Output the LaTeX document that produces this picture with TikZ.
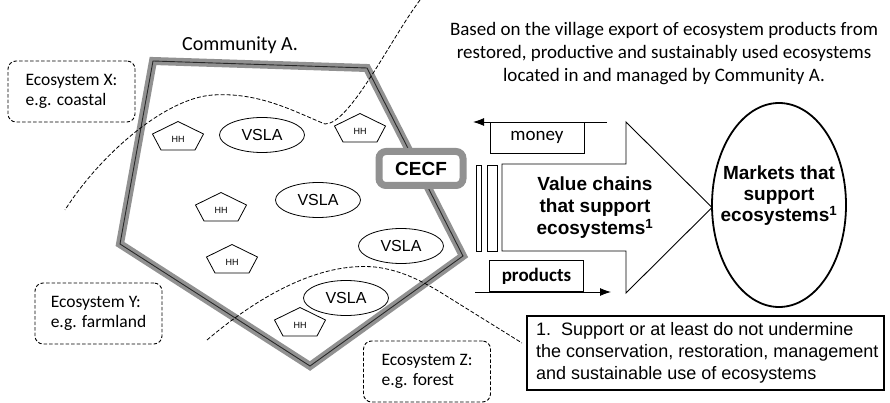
\documentclass[tikz,border=0pt]{standalone}
\usepackage{fontspec}
\setmainfont{Carlito}
\newfontfamily\arialf{Liberation Sans}
\usetikzlibrary{shapes.geometric,arrows.meta}
\definecolor{bandgray}{RGB}{145,145,145}
\definecolor{banddark}{RGB}{40,40,40}
\tikzset{
  eco/.style={draw, dash pattern=on 3.5pt off 2pt, rounded corners=8pt, line width=0.9pt,
    minimum width=127pt, minimum height=61pt, align=left, inner sep=0pt,
    font=\fontsize{17.5}{20.5}\selectfont},
  vsla/.style={draw, ellipse, line width=0.8pt, minimum width=85pt, minimum height=35pt,
    inner sep=0pt, font=\arialf\fontsize{16}{16}\selectfont},
  hhpent/.pic={
    \draw[line width=0.8pt] (0,-15.5) -- (25.5,-3) -- (17,13) -- (-17,13) -- (-25.5,-3) -- cycle;
    \node[font=\arialf\fontsize{9}{9}\selectfont, inner sep=0pt] (-t) at (0,2) {HH};},
  eline/.style={line width=0.8pt, dash pattern=on 4pt off 2pt},
  flowbox/.style={draw, line width=0.9pt, minimum width=94pt, minimum height=31pt, inner sep=0pt},
  cecfbox/.style={draw=bandgray, line width=7pt, rounded corners=7pt, fill=white,
    minimum width=84pt, minimum height=34pt, inner sep=0pt,
    font=\arialf\bfseries\fontsize{19}{19}\selectfont},
  bold19/.style={align=center, font=\arialf\bfseries\fontsize{19}{22}\selectfont, inner sep=0pt},
  flowarrow/.style={line width=0.9pt, -{Latex[length=11pt,width=8pt]}},
}
\begin{document}
\begin{tikzpicture}[x=1pt,y=-1pt]
\useasboundingbox (0,0) rectangle (890,403);

% pentagon community boundary
\coordinate (p1) at (153,61);
\coordinate (p2) at (367,68);
\coordinate (p3) at (463,256);
\coordinate (p4) at (310,366);
\coordinate (p5) at (120,244);
\draw[bandgray, line width=8pt, line join=miter] (p1) -- (p2) -- (p3) -- (p4) -- (p5) -- cycle;
\draw[banddark, line width=0.9pt, scale around={0.972:(282,200)}] (p1) -- (p2) -- (p3) -- (p4) -- (p5) -- cycle;

\node[font=\fontsize{20}{20}\selectfont] (comm) at (240,45) {Community A.};

% dashed ecosystem boundaries
\draw[eline] (420,0) .. controls (390,40) and (350,124) .. (325,124)
  .. controls (295,112) and (260,92) .. (213,95)
  .. controls (165,98) and (100,155) .. (65,210);
\draw[eline] (207,340) .. controls (260,295) and (320,262) .. (375,267)
  .. controls (400,270) and (420,280) .. (440,292) -- (522,343);

% ecosystem boxes
\node[eco] (ex) at (71.5,91.5) {Ecosystem X:\\e.g. coastal};
\node[eco] (ey) at (98.5,313.5) {Ecosystem Y:\\e.g. farmland};
\node[eco] (ez) at (427,371.5) {Ecosystem Z:\\e.g. forest};

% VSLAs
\node[vsla] (v1) at (262,135) {VSLA};
\node[vsla] (v2) at (318,200) {VSLA};
\node[vsla] (v3) at (401,246) {VSLA};
\node[vsla] (v4) at (346,298) {VSLA};

% households
\pic (h1) at (178,137) {hhpent};
\pic (h2) at (360,129) {hhpent};
\pic (h3) at (221,208) {hhpent};
\pic (h4) at (232,260) {hhpent};
\pic (h5) at (300,323) {hhpent};

% CECF
\node[cecfbox] (cecf) at (421,168.5) {CECF};

% top text
\node[align=center, font=\fontsize{19}{23}\selectfont, inner sep=0pt] (top) at (664,54)
  {Based on the village export of ecosystem products from\\
   restored, productive and sustainably used ecosystems\\
   located in and managed by Community A.};

% bars
\draw[line width=0.8pt] (476,165) rectangle (481,251);
\draw[line width=0.8pt] (487,165) rectangle (497,251);

% block arrow
\coordinate (a1) at (502,164);
\coordinate (a2) at (626,164);
\coordinate (a3) at (626,122);
\coordinate (a4) at (712,207.5);
\coordinate (a5) at (626,293);
\coordinate (a6) at (626,251);
\coordinate (a7) at (502,251);
\draw[line width=0.9pt, line join=miter] (a1) -- (a2) -- (a3) -- (a4) -- (a5) -- (a6) -- (a7) -- cycle;
\node[bold19] (vc) at (595,208) {Value chains\\that support\\ecosystems\textsuperscript{1}};

% money and products
\node[flowbox, font=\fontsize{19}{19}\selectfont] (money) at (537,137.5) {money};
\coordinate (mR) at (607,122);
\coordinate (mL) at (473,122);
\draw[flowarrow] (mR) -- (mL);
\node[flowbox, font=\bfseries\fontsize{19}{19}\selectfont] (prod) at (536.5,276) {products};
\coordinate (pL) at (475,292);
\coordinate (pR) at (611,292);
\draw[flowarrow] (pL) -- (pR);

% markets
\node[draw, ellipse, line width=1.8pt, minimum width=134pt, minimum height=204pt, inner sep=0pt] (mk) at (779,205) {};
\node[bold19, font=\arialf\bfseries\fontsize{19}{21}\selectfont] (mkt) at (779,196) {Markets that\\support\\ecosystems\textsuperscript{1}};

% footnote
\node[draw, line width=1.2pt, minimum width=357pt, minimum height=74pt, inner sep=0pt] (fn) at (705.5,353) {};
\node[align=left, anchor=west, inner sep=0pt, font=\arialf\fontsize{18}{22}\selectfont] (fnt) at (536,353)
  {1.\ \ Support or at least do not undermine\\
   the conservation, restoration, management\\
   and sustainable use of ecosystems};
\end{tikzpicture}
\end{document}
